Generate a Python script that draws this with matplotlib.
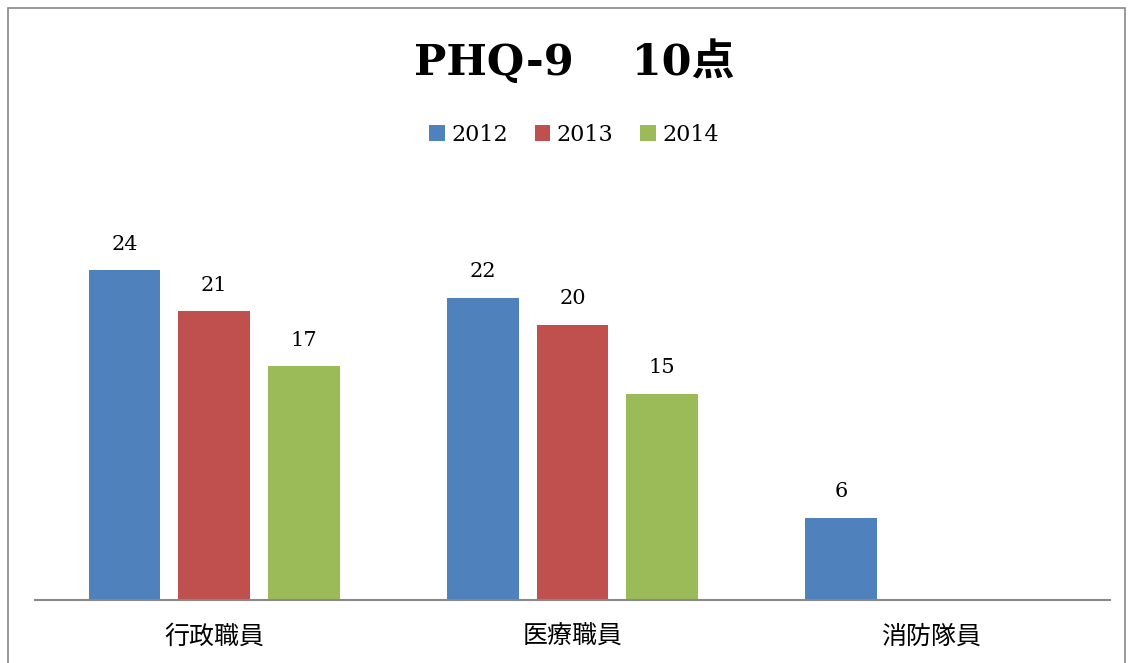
import numpy as np
import matplotlib.pyplot as plt
from matplotlib.patches import Rectangle, Patch

# Data
categories = ['行政職員', '医療職員', '消防隊員']
years = ['2012', '2013', '2014']
values = {
    '2012': [24, 22, 6],
    '2013': [21, 20, None],
    '2014': [17, 15, None],
}
colors = ['#4f81bd', '#c0504d', '#9bbb59']

fig = plt.figure(figsize=(11.33, 6.63), dpi=100)
ax = fig.add_axes([35 / 1133, 63 / 663, 1075 / 1133, 412.5 / 663])

x = np.arange(len(categories))
offsets = [-0.25, 0, 0.25]
for year, off, col in zip(years, offsets, colors):
    for xi, v in zip(x, values[year]):
        if v is None:
            continue
        ax.bar(xi + off, v, width=0.2, color=col)
        ax.text(xi + off, v + 1.2, str(v), ha='center', va='bottom',
                fontsize=15, family='DejaVu Serif')

ax.set_xlim(-0.5, 2.5)
ax.set_ylim(0, 30)
ax.set_xticks(x)
ax.set_xticklabels(categories, family='Noto Sans CJK JP', fontsize=18)
ax.tick_params(axis='x', length=0, pad=17)
ax.set_yticks([])
for s in ['top', 'left', 'right']:
    ax.spines[s].set_visible(False)
ax.spines['bottom'].set_color('#888888')
ax.spines['bottom'].set_linewidth(1.5)

# title
fig.text(574 / 1133, 1 - 62 / 663, 'PHQ-9\u3000 10点', ha='center', va='center',
         fontsize=31, fontweight='bold', family=['DejaVu Serif', 'Noto Sans CJK JP'])

# legend
handles = [Patch(facecolor=c, label=y) for c, y in zip(colors, years)]
fig.legend(handles=handles, loc='center', bbox_to_anchor=(574 / 1133, 1 - 135 / 663),
           ncol=3, frameon=False, handlelength=0.7, handleheight=0.7,
           handletextpad=0.3, columnspacing=1.2,
           prop={'family': 'DejaVu Serif', 'size': 16})

# outer frame
fig.patches.append(Rectangle((8 / 1133, -0.1), 1117 / 1133, 1.1 - 8 / 663,
                             transform=fig.transFigure, fill=False,
                             edgecolor='#888888', linewidth=1.2))

fig.savefig('out.png', dpi=100)
